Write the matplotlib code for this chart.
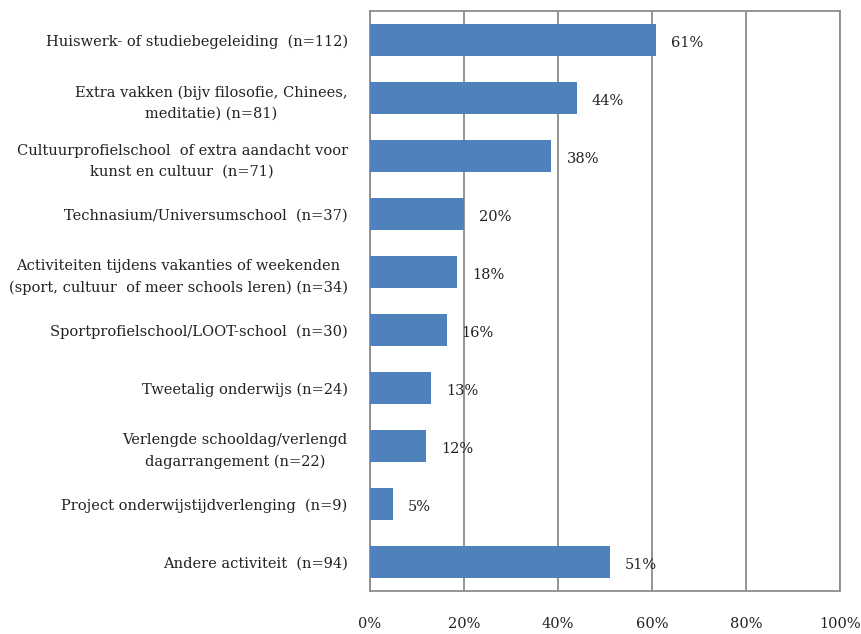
import matplotlib
matplotlib.use("Agg")
import matplotlib.pyplot as plt
from matplotlib.ticker import FuncFormatter

# Categories (top to bottom) and shares in percent
categories = [
    "Huiswerk- of studiebegeleiding  (n=112)",
    "Extra vakken (bijv filosofie, Chinees,\nmeditatie) (n=81)",
    "Cultuurprofielschool  of extra aandacht voor\nkunst en cultuur  (n=71)",
    "Technasium/Universumschool  (n=37)",
    "Activiteiten tijdens vakanties of weekenden\n(sport, cultuur  of meer schools leren) (n=34)",
    "Sportprofielschool/LOOT-school  (n=30)",
    "Tweetalig onderwijs (n=24)",
    "Verlengde schooldag/verlengd\ndagarrangement (n=22)",
    "Project onderwijstijdverlenging  (n=9)",
    "Andere activiteit  (n=94)",
]
values = [60.9, 44.0, 38.6, 20.1, 18.5, 16.3, 13.0, 12.0, 4.9, 51.1]
value_labels = ["61%", "44%", "38%", "20%", "18%", "16%", "13%", "12%", "5%", "51%"]
x_ticks = [0, 20, 40, 60, 80, 100]

plt.rcParams["font.family"] = ["DejaVu Serif"]

fig = plt.figure(figsize=(8.61, 6.34), dpi=100)
ax = fig.add_axes([0.4297, 0.0678, 0.5459, 0.9148])

grid_col = "#8c8c8c"
pos = list(range(len(categories)))
ax.barh(pos, values, height=0.54, color="#4f81bd", zorder=3)

for p, v, lab in zip(pos, values, value_labels):
    ax.text(v + 3.2, p + 0.05, lab, va="center", ha="left", fontsize=10.5, color="#222222", zorder=4)

ax.set_xlim(0, 100)
ax.set_ylim(len(categories) - 0.5, -0.5)
ax.set_xticks(x_ticks)
ax.xaxis.set_major_formatter(FuncFormatter(lambda x, _: f"{x:.0f}%"))
ax.set_yticks(pos)
ax.set_yticklabels(categories, multialignment="center", linespacing=1.65)

ax.xaxis.grid(True, color=grid_col, linewidth=1.3, zorder=0)
ax.tick_params(axis="x", length=0, pad=19, labelsize=10.5, colors="#222222")
ax.tick_params(axis="y", length=0, pad=16, labelsize=10.5, colors="#222222")
for s in ax.spines.values():
    s.set_color(grid_col)
    s.set_linewidth(1.3)

fig.savefig("out.png", dpi=100)
